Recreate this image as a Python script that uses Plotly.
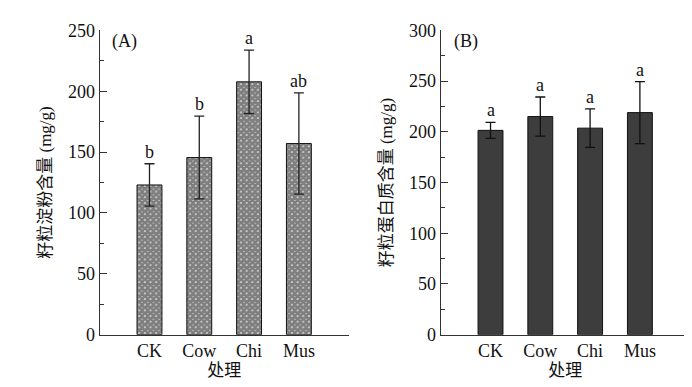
import plotly.graph_objects as go

categories = ["CK", "Cow", "Chi", "Mus"]
starch_mean = [123, 145.5, 207.7, 157]
starch_err = [17.4, 34, 26, 41.6]
starch_letters = ["b", "b", "a", "ab"]
protein_mean = [201.4, 215, 203.6, 218.9]
protein_err = [7.8, 19.3, 19, 30.6]
protein_letters = ["a", "a", "a", "a"]
starch_ticks = [0, 50, 100, 150, 200, 250]
protein_ticks = [0, 50, 100, 150, 200, 250, 300]

FONT = "Liberation Serif, Times New Roman, Noto Sans CJK SC, serif"
AXC = "#333333"
TXT = "#111111"

fig = go.Figure()

fig.add_trace(go.Bar(
    x=categories, y=starch_mean, xaxis="x", yaxis="y",
    width=0.5,
    marker=dict(color="white", line=dict(color="#111111", width=1),
                pattern=dict(shape="x", size=4, solidity=0.9, fgcolor="#000000", bgcolor="white")),
    error_y=dict(type="data", array=starch_err, color="#222222", thickness=1.3, width=5),
    showlegend=False,
))
fig.add_trace(go.Bar(
    x=categories, y=protein_mean, xaxis="x2", yaxis="y2",
    width=0.5,
    marker=dict(color="#3d3d3d", line=dict(color="#111111", width=1)),
    error_y=dict(type="data", array=protein_err, color="#111111", thickness=1.3, width=5),
    showlegend=False,
))

annotations = []
for c, m, e, t in zip(categories, starch_mean, starch_err, starch_letters):
    annotations.append(dict(x=c, y=m + e, xref="x", yref="y", text=t, showarrow=False,
                            yanchor="bottom", yshift=0, font=dict(family=FONT, size=18, color=TXT)))
for c, m, e, t in zip(categories, protein_mean, protein_err, protein_letters):
    annotations.append(dict(x=c, y=m + e, xref="x2", yref="y2", text=t, showarrow=False,
                            yanchor="bottom", yshift=0, font=dict(family=FONT, size=18, color=TXT)))
annotations.append(dict(x=0.148, y=0.935, xref="paper", yref="paper", text="(A)", showarrow=False,
                        xanchor="left", yanchor="middle", font=dict(family=FONT, size=18, color=TXT)))
annotations.append(dict(x=0.641, y=0.935, xref="paper", yref="paper", text="(B)", showarrow=False,
                        xanchor="left", yanchor="middle", font=dict(family=FONT, size=18, color=TXT)))

xcommon = dict(range=[-1, 4], showline=True, linecolor=AXC, linewidth=1.2, ticks="",
               showgrid=False, zeroline=False,
               tickfont=dict(family=FONT, size=18, color=TXT),
               title=dict(text="处理", font=dict(family=FONT, size=17, color=TXT), standoff=0))
ycommon = dict(showline=True, linecolor=AXC, linewidth=1.2, ticks="inside", ticklen=7,
               tickcolor=AXC, tickwidth=1.2, showgrid=False, zeroline=False,
               tickfont=dict(family=FONT, size=18, color=TXT),
               minor=dict(ticks="inside", ticklen=4, tickcolor=AXC, tickwidth=1.2, dtick=25))

fig.update_layout(
    width=692, height=387,
    margin=dict(l=0, r=0, t=0, b=0),
    paper_bgcolor="white", plot_bgcolor="white",
    bargap=0.5,
    xaxis=dict(domain=[0.1325, 0.4923], anchor="y", **xcommon),
    xaxis2=dict(domain=[0.6253, 0.9851], anchor="y2", **xcommon),
    yaxis=dict(domain=[0.137, 0.9664], anchor="x", range=[0, 250], tickvals=starch_ticks,
               title=dict(text="籽粒淀粉含量 (mg/g)", font=dict(family=FONT, size=17, color=TXT), standoff=12),
               **ycommon),
    yaxis2=dict(domain=[0.137, 0.9664], anchor="x2", range=[0, 300], tickvals=protein_ticks,
                title=dict(text="籽粒蛋白质含量 (mg/g)", font=dict(family=FONT, size=17, color=TXT), standoff=12),
                **ycommon),
    annotations=annotations,
)

fig.write_html("out.html")
